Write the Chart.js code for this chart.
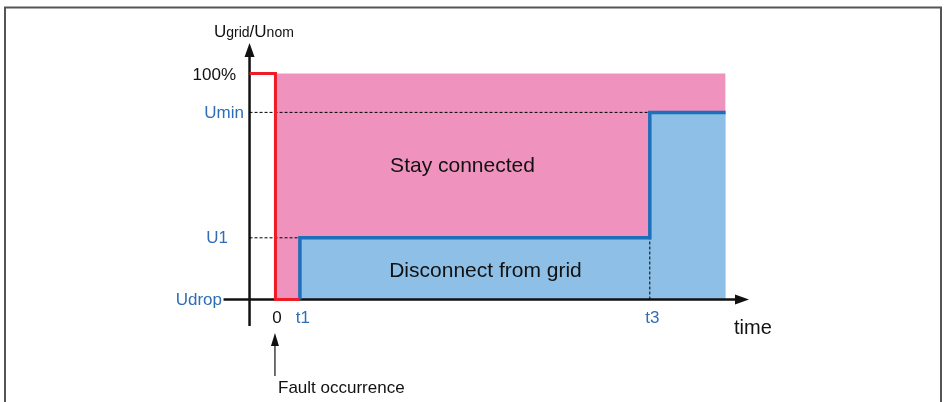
<!DOCTYPE html>
<html>
<head>
<meta charset="utf-8">
<script src="https://cdn.jsdelivr.net/npm/chart.js@4.4.0/dist/chart.umd.min.js"></script>
<style>
  html, body { margin: 0; padding: 0; background: #fff; }
  #wrap { width: 945px; height: 402px; }
</style>
</head>
<body>
<div id="wrap"><canvas id="lvrt"></canvas></div>
<script>
// Repères de temps (unité arbitraire, t1 = 1)
const tAxis = -1.06;
const tFault = 0;
const t1 = 1;
const t3 = 15.31;
const tEnd = 18.41;

// Niveaux de tension en % de Unom
const uDrop = 0;
const u1 = 27.3;
const uMin = 82.8;
const uNom = 100;

// Courbes
const faultX = [tAxis, tFault, tFault, t1];
const faultY = [uNom, uNom, uDrop, uDrop];
const limitX = [t1, t1, t3, t3, tEnd];
const limitY = [uDrop, u1, u1, uMin, uMin];
const stayX = [tFault, tEnd];
const stayY = [uNom, uNom];

// Etiquettes des axes
const yTickValues = [uNom, uMin, u1, uDrop];
const yTickLabels = ['100%', 'Umin', 'U1', 'Udrop'];
const xTickValues = [tFault, t1, t3];
const xTickLabels = ['0', 't1', 't3'];

const FONT = "'Liberation Sans', Arial, sans-serif";
const BLUE_TXT = '#2f6db5';

const pts = (xs, ys) => xs.map((x, i) => ({ x: x, y: ys[i] }));

const dashed = (xs, ys) => ({
    data: pts(xs, ys),
    borderColor: '#000',
    borderWidth: 1,
    borderDash: [3, 2],
    pointRadius: 0,
    fill: false,
    order: 2
});

// Dessin des axes, flèches et textes
const decorPlugin = {
    id: 'decor',
    beforeDraw(chart) {
        const ctx = chart.ctx;
        ctx.save();
        ctx.fillStyle = '#fff';
        ctx.fillRect(0, 0, chart.width, chart.height);
        // cadre
        ctx.strokeStyle = '#555';
        ctx.lineWidth = 2;
        ctx.beginPath();
        ctx.moveTo(5, 402);
        ctx.lineTo(5, 7.5);
        ctx.lineTo(941, 7.5);
        ctx.lineTo(941, 402);
        ctx.stroke();
        ctx.restore();
    },
    beforeDatasetsDraw(chart) {
        const { ctx, scales: { x, y }, chartArea } = chart;
        const ax = x.getPixelForValue(tAxis);
        const ay = y.getPixelForValue(uDrop);
        ctx.save();
        ctx.strokeStyle = '#111';
        ctx.fillStyle = '#111';
        ctx.lineWidth = 2.5;
        // axe vertical
        ctx.beginPath();
        ctx.moveTo(ax, chartArea.bottom);
        ctx.lineTo(ax, chartArea.top + 10);
        ctx.stroke();
        ctx.beginPath();
        ctx.moveTo(ax, chartArea.top);
        ctx.lineTo(ax - 5, chartArea.top + 14);
        ctx.lineTo(ax + 5, chartArea.top + 14);
        ctx.closePath();
        ctx.fill();
        // axe horizontal (avec repère Udrop)
        ctx.beginPath();
        ctx.moveTo(ax - 26, ay);
        ctx.lineTo(chartArea.right - 10, ay);
        ctx.stroke();
        ctx.beginPath();
        ctx.moveTo(chartArea.right, ay);
        ctx.lineTo(chartArea.right - 14, ay - 5);
        ctx.lineTo(chartArea.right - 14, ay + 5);
        ctx.closePath();
        ctx.fill();
        ctx.restore();
    },
    afterDraw(chart) {
        const { ctx, scales: { x, y } } = chart;
        ctx.save();
        ctx.textBaseline = 'middle';
        ctx.font = '17px ' + FONT;

        // étiquettes de l'axe vertical
        const yRight = [236, 244, 228, 222];
        yTickValues.forEach((v, i) => {
            ctx.fillStyle = i === 0 ? '#111' : BLUE_TXT;
            ctx.textAlign = 'right';
            ctx.fillText(yTickLabels[i], yRight[i], y.getPixelForValue(v) + (i === 0 ? 2 : 0.5));
        });

        // étiquettes de l'axe du temps
        const xShift = [1.5, 3, 2.5];
        xTickValues.forEach((v, i) => {
            ctx.fillStyle = i === 0 ? '#111' : BLUE_TXT;
            ctx.textAlign = 'center';
            ctx.fillText(xTickLabels[i], x.getPixelForValue(v) + xShift[i], y.getPixelForValue(uDrop) + 19);
        });

        ctx.fillStyle = '#111';
        ctx.textAlign = 'left';
        ctx.textBaseline = 'alphabetic';
        ctx.font = '20px ' + FONT;
        ctx.fillText('time', 734, 334);

        // titre de l'axe vertical
        let px = 214;
        [['U', 17], ['grid', 14], ['/', 17], ['U', 17], ['nom', 14]].forEach(([s, size]) => {
            ctx.font = size + 'px ' + FONT;
            ctx.fillText(s, px, 37);
            px += ctx.measureText(s).width;
        });

        // zones
        ctx.textAlign = 'center';
        ctx.textBaseline = 'middle';
        ctx.font = '21px ' + FONT;
        ctx.fillText('Stay connected', x.getPixelForValue(7.65), y.getPixelForValue(59));
        ctx.fillText('Disconnect from grid', x.getPixelForValue(8.59), y.getPixelForValue(12.6));

        // apparition du défaut
        const fx = x.getPixelForValue(tFault) - 0.5;
        ctx.strokeStyle = '#111';
        ctx.lineWidth = 1.2;
        ctx.beginPath();
        ctx.moveTo(fx, 376);
        ctx.lineTo(fx, 342);
        ctx.stroke();
        ctx.beginPath();
        ctx.moveTo(fx, 333);
        ctx.lineTo(fx - 4, 346);
        ctx.lineTo(fx + 4, 346);
        ctx.closePath();
        ctx.fill();
        ctx.textAlign = 'left';
        ctx.textBaseline = 'alphabetic';
        ctx.font = '17px ' + FONT;
        ctx.fillText('Fault occurrence', 278, 393);
        ctx.restore();
    }
};

new Chart(document.getElementById('lvrt'), {
    type: 'line',
    data: {
        datasets: [
            {
                // trajectoire de la tension lors du défaut
                data: pts(faultX, faultY),
                borderColor: '#ee1d25',
                borderWidth: 3,
                borderJoinStyle: 'miter',
                pointRadius: 0,
                fill: false,
                order: 0
            },
            {
                // limite de déconnexion
                data: pts(limitX, limitY),
                borderColor: '#1c6fb9',
                backgroundColor: '#8ebfe6',
                borderWidth: 3.5,
                borderJoinStyle: 'miter',
                pointRadius: 0,
                fill: 'origin',
                order: 1
            },
            dashed([tAxis, t3], [uMin, uMin]),
            dashed([tAxis, t1], [u1, u1]),
            dashed([t3, t3], [uDrop, u1]),
            {
                // zone de maintien
                data: pts(stayX, stayY),
                borderColor: 'transparent',
                backgroundColor: '#ef92be',
                borderWidth: 0,
                pointRadius: 0,
                fill: 'origin',
                order: 3
            }
        ]
    },
    options: {
        responsive: true,
        maintainAspectRatio: false,
        animation: false,
        layout: {
            padding: { left: 249, right: 196, top: 43, bottom: 76 }
        },
        plugins: {
            legend: { display: false },
            tooltip: { enabled: false },
            filler: { drawTime: 'beforeDatasetsDraw' }
        },
        elements: { line: { tension: 0 } },
        scales: {
            x: { type: 'linear', display: false, min: -1.082, max: 19.367 },
            y: { type: 'linear', display: false, min: -11.73, max: 113.5 }
        }
    },
    plugins: [decorPlugin]
});
</script>
</body>
</html>
